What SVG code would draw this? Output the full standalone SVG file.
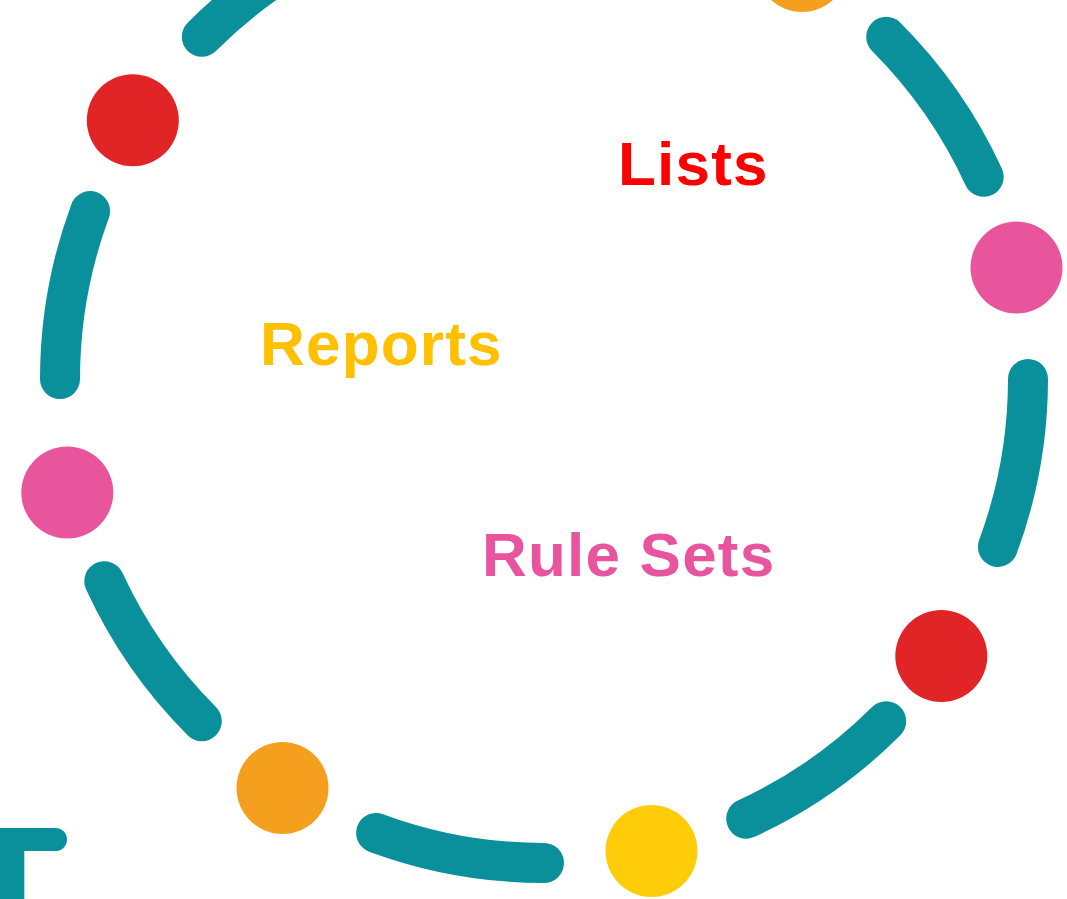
<svg xmlns="http://www.w3.org/2000/svg" width="1067" height="899" viewBox="0 0 1067 899">
<style>
.arc{fill:none;stroke:#0A909B;stroke-width:40;stroke-linecap:round}
.lbl{font-family:"Liberation Sans",Arial,sans-serif;font-weight:bold;font-size:62px;letter-spacing:1.2px}
</style>
<rect width="1067" height="899" fill="#ffffff"/>
<g id="connectors">
<path class="arc" d="M1028 379A484 484 0 0 1 997.9 546.9"/>
<path class="arc" d="M886.2 721.2A484 484 0 0 1 746.2 818.7"/>
<path class="arc" d="M544 863A484 484 0 0 1 376.1 832.9"/>
<path class="arc" d="M201.8 721.2A484 484 0 0 1 104.3 581.2"/>
<path class="arc" d="M60 379A484 484 0 0 1 90.1 211.1"/>
<path class="arc" d="M201.8 36.8A484 484 0 0 1 341.8 -60.7"/>
<path class="arc" d="M544 -105A484 484 0 0 1 711.9 -74.9"/>
<path class="arc" d="M886.2 36.8A484 484 0 0 1 983.7 176.8"/>
</g>
<g id="dot-pink-right"><circle cx="1016.5" cy="267.5" r="46" fill="#E8559D"/></g>
<g id="dot-red-right"><circle cx="941.3" cy="656" r="46" fill="#E12426"/></g>
<g id="dot-yellow"><circle cx="651.5" cy="851" r="46" fill="#FECC08"/></g>
<g id="dot-orange-bottom"><circle cx="282.5" cy="788" r="46" fill="#F59F1F"/></g>
<g id="dot-pink-left"><circle cx="67.3" cy="492.5" r="46" fill="#E8559D"/></g>
<g id="dot-red-left"><circle cx="132.8" cy="120.3" r="46" fill="#E12426"/></g>
<g id="dot-orange-top"><circle cx="802" cy="-34" r="46" fill="#F59F1F"/></g>
<g id="label-lists"><text class="lbl" x="618" y="185" fill="#FF0000">Lists</text></g>
<g id="label-reports"><text class="lbl" x="260" y="365" fill="#FFC000">Reports</text></g>
<g id="label-rulesets"><text class="lbl" x="482" y="576" fill="#E8559E">Rule Sets</text></g>
<g id="corner-t">
<line x1="-20" y1="839.5" x2="55.5" y2="839.5" stroke="#0A909B" stroke-width="23" stroke-linecap="round"/>
<rect x="-10" y="839" width="34.3" height="70" fill="#0A909B"/>
</g>
</svg>
